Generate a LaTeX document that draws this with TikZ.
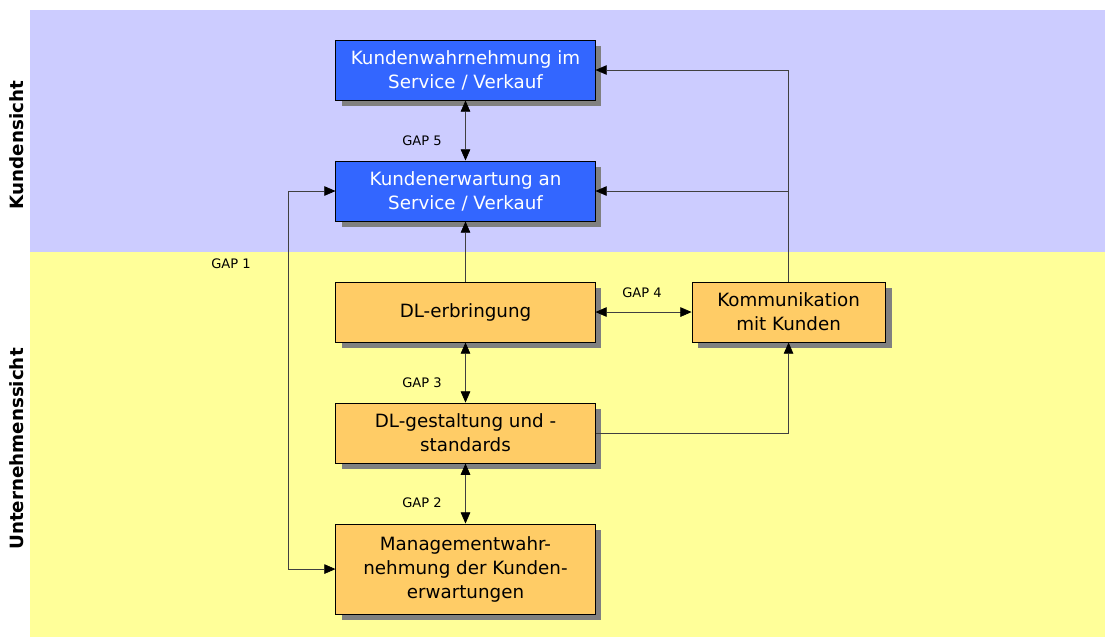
\documentclass[tikz,border=0pt]{standalone}
\usepackage{fontspec}
\setmainfont{DejaVu Sans}
\usetikzlibrary{positioning,shadows,arrows.meta}

\definecolor{kundenbg}{HTML}{CCCCFF}
\definecolor{firmabg}{HTML}{FFFF99}
\definecolor{kundenbox}{HTML}{3366FF}
\definecolor{firmabox}{HTML}{FFCC66}
\definecolor{shadowgray}{HTML}{808080}

\begin{document}
\begin{tikzpicture}[
  x=0.025cm, y=-0.025cm,
  node distance=1.5cm,
  >={Triangle[length=2.8mm,width=2.4mm,color=black]},
  box/.style={rectangle, draw=black, line width=0.7pt, align=center,
    minimum width=6.475cm, minimum height=1.5cm,
    font=\fontsize{13}{17}\selectfont,
    drop shadow={shadow xshift=0.16cm, shadow yshift=-0.16cm, fill=shadowgray, opacity=1}},
  kbox/.style={box, fill=kundenbox, text=white},
  fbox/.style={box, fill=firmabox},
  link/.style={draw=black!75, line width=0.5pt},
  gaplabel/.style={font=\fontsize{9.3}{11}\selectfont},
  sidelabel/.style={font=\bfseries\fontsize{13}{15}\selectfont, rotate=90}
]
  \useasboundingbox (0,0) rectangle (1105,638);
  \fill[kundenbg] (30,10) rectangle (1105,252);
  \fill[firmabg] (30,252) rectangle (1105,637);

  \node (kundensicht) [sidelabel] at (17,145) {Kundensicht};
  \node (firmensicht) [sidelabel] at (17,449) {Unternehmenssicht};

  \node (wahrnehmung) [kbox] at (465.5,70) {Kundenwahrnehmung im\\Service / Verkauf};
  \node (erwartung) [below=of wahrnehmung, kbox] {Kundenerwartung an\\Service / Verkauf};
  \node (erbringung) [below=of erwartung, fbox] {DL-erbringung};
  \node (kommunikation) [right=2.4cm of erbringung, fbox, minimum width=4.825cm] {Kommunikation\\mit Kunden};
  \node (gestaltung) [below=of erbringung, fbox] {DL-gestaltung und -\\standards};
  \node (management) [below=of gestaltung, fbox, minimum height=2.25cm] {Managementwahr-\\nehmung der Kunden-\\erwartungen};

  \coordinate (gapeins) at ([xshift=-1.175cm]erwartung.west);

  \draw[link, <->] (wahrnehmung) -- (erwartung);
  \draw[link, ->] (erbringung) -- (erwartung);
  \draw[link, <->] (erbringung) -- (gestaltung);
  \draw[link, <->] (gestaltung) -- (management);
  \draw[link, <->] (erbringung) -- (kommunikation);
  \draw[link, ->] (kommunikation.north) |- (wahrnehmung.east);
  \draw[link, ->] (kommunikation.north) |- (erwartung.east);
  \draw[link, ->] (gestaltung.east) -| (kommunikation.south);
  \draw[link, <->] (erwartung.west) -- (gapeins) |- (management.west);

  \node (gap1) [gaplabel] at (231,264) {GAP 1};
  \node (gap2) [gaplabel] at (422,503) {GAP 2};
  \node (gap3) [gaplabel] at (422,383) {GAP 3};
  \node (gap4) [gaplabel] at (642,293) {GAP 4};
  \node (gap5) [gaplabel] at (422,141) {GAP 5};
\end{tikzpicture}
\end{document}
